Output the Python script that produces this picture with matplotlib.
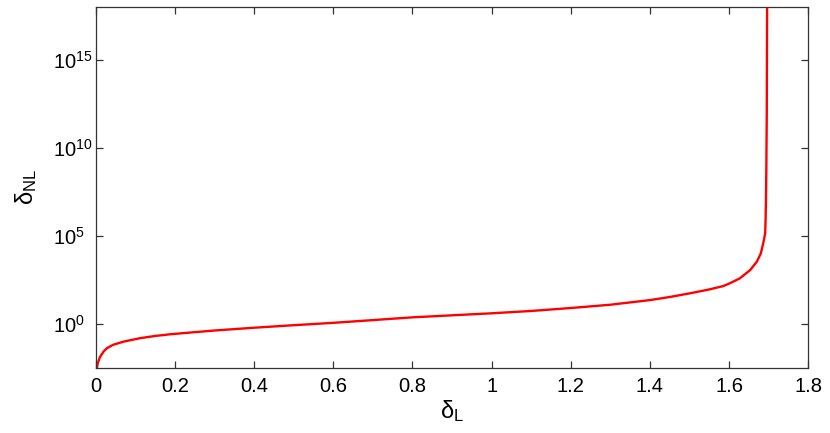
import matplotlib
matplotlib.use("Agg")
import numpy as np
from matplotlib import pyplot as plt
from matplotlib.ticker import FixedLocator, FixedFormatter

# values (linear density contrast vs non-linear)
delta_lin = [0.0005, 0.002, 0.005, 0.011, 0.02, 0.028, 0.044, 0.070, 0.112, 0.150,
             0.188, 0.25, 0.3, 0.4, 0.5, 0.6, 0.7, 0.8, 0.9, 1.0, 1.1, 1.2, 1.3,
             1.4, 1.45, 1.502, 1.55, 1.585, 1.602, 1.627, 1.653, 1.670,
             1.680, 1.686, 1.691, 1.692, 1.693, 1.694, 1.695, 1.696]
delta_nonlin = [0.0005, 0.002, 0.0055, 0.013, 0.026, 0.040, 0.063, 0.095, 0.15, 0.20,
                0.25, 0.33, 0.41, 0.59, 0.82, 1.12, 1.6, 2.3, 3.0, 3.9, 5.3, 7.8, 12.0,
                22.0, 33.0, 54.0, 89.0, 138.0, 200.0, 380.0, 1120.0, 3390.0,
                1.0e4, 3.7e4, 1.4e5, 7.9e5, 1e7, 1e9, 1e12, 1e19]

ytick_vals = [1e0, 1e5, 1e10, 1e15]
ytick_text = [r"$\mathregular{10^{0}}$", r"$\mathregular{10^{5}}$",
              r"$\mathregular{10^{10}}$", r"$\mathregular{10^{15}}$"]
xtick_vals = [0, 0.2, 0.4, 0.6, 0.8, 1, 1.2, 1.4, 1.6, 1.8]
xtick_text = ["0", "0.2", "0.4", "0.6", "0.8", "1", "1.2", "1.4", "1.6", "1.8"]

plt.rcParams["font.family"] = ["Liberation Sans", "DejaVu Sans"]
plt.rcParams["mathtext.fontset"] = "custom"
plt.rcParams["mathtext.rm"] = "Liberation Sans"
plt.rcParams["mathtext.it"] = "Liberation Sans"

fig = plt.figure(figsize=(8.3, 4.33), dpi=100)
ax = fig.add_axes([0.1153, 0.1494, 0.9739 - 0.1153, 0.9845 - 0.1494])

ax.plot(delta_lin, delta_nonlin, color="#ff0000", lw=1.7)

ax.set_yscale("log")
ax.set_xlim(0, 1.8)
ax.set_ylim(2.9e-3, 1.07e18)

ax.yaxis.set_major_locator(FixedLocator(ytick_vals))
ax.yaxis.set_major_formatter(FixedFormatter(ytick_text))
ax.yaxis.set_minor_locator(FixedLocator([]))
ax.set_xticks(xtick_vals)
ax.set_xticklabels(xtick_text)

ax.tick_params(direction="in", top=True, right=True, length=5, width=0.9,
               color="#333333", labelsize=14.5)
ax.tick_params(axis="x", pad=6)
ax.tick_params(axis="y", pad=31)
for lab in ax.get_yticklabels():
    lab.set_horizontalalignment("left")
for s in ax.spines.values():
    s.set_linewidth(0.9)
    s.set_color("#333333")

ax.set_xlabel(r"$\mathregular{\delta_{L}}$", fontsize=17, labelpad=2)
ax.set_ylabel(r"$\mathregular{\delta_{NL}}$", fontsize=17, labelpad=10)

fig.savefig("out.png", dpi=100)
